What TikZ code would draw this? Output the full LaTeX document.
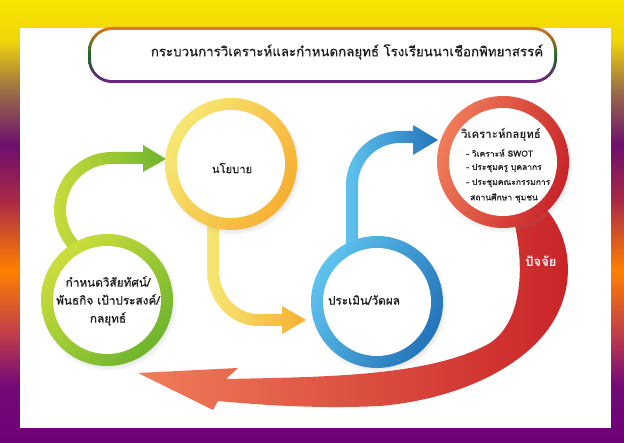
\documentclass[tikz,border=0pt]{standalone}
\usepackage{fontspec}
\newfontfamily\thaifont[Script=Thai,FakeBold=0.7]{Loma}
\newfontfamily\thaibold[Script=Thai]{Loma Bold}
\usetikzlibrary{shadows}
\definecolor{fyelA}{RGB}{247,229,0}
\definecolor{fyelB}{RGB}{240,214,10}
\definecolor{fbrown}{RGB}{155,110,70}
\definecolor{fpurC}{RGB}{110,15,110}
\definecolor{fredB}{RGB}{170,40,70}
\definecolor{forange}{RGB}{255,128,0}
\definecolor{fredA}{RGB}{190,60,75}
\definecolor{fpurB}{RGB}{115,10,120}
\definecolor{fpurA}{RGB}{110,0,120}
\definecolor{tOr}{RGB}{230,115,25}
\definecolor{tGr}{RGB}{25,105,35}
\definecolor{tPu}{RGB}{115,30,135}
\definecolor{gA}{RGB}{205,222,60}
\definecolor{gB}{RGB}{110,180,45}
\definecolor{yA}{RGB}{246,232,115}
\definecolor{yB}{RGB}{247,175,50}
\definecolor{bA}{RGB}{95,195,238}
\definecolor{bB}{RGB}{35,115,185}
\definecolor{rA}{RGB}{240,125,90}
\definecolor{rB}{RGB}{200,35,40}
\definecolor{txt}{RGB}{30,30,30}
\pgfdeclareverticalshading{framesh}{100bp}{color(0bp)=(fpurA); color(25bp)=(fpurA); color(31.5bp)=(fpurB); color(37.2bp)=(fredA); color(44.5bp)=(forange); color(52.4bp)=(fredB); color(58.6bp)=(fpurC); color(64.8bp)=(fbrown); color(70.5bp)=(fyelB); color(75bp)=(fyelA); color(100bp)=(fyelA)}
\pgfdeclareradialshading{innerwhite}{\pgfpoint{0bp}{0bp}}{color(0bp)=(white); color(21bp)=(white); color(25bp)=(black!13); color(50bp)=(black!13)}
\tikzset{
  ring/.style={circle, minimum size=132pt, inner sep=0pt,
    circular drop shadow={shadow xshift=1.5pt, shadow yshift=-2.5pt, opacity=0.3, shadow scale=1.04},
    path picture={\shade[shading=innerwhite] (path picture bounding box.center) circle (54pt);}},
  ctext/.style={font=\thaifont\fontsize{11.8}{18}\selectfont, text=txt, align=center, inner sep=0pt},
  btext/.style={font=\thaifont\fontsize{8.5}{12}\selectfont, text=txt, anchor=west, inner sep=0pt},
}
\begin{document}
\begin{tikzpicture}[x=1pt,y=1pt]
\useasboundingbox (0,0) rectangle (624,443);
% frame
\shade[shading=framesh] (0,0) rectangle (624,443);
\fill[white] (20,15) rectangle (611,415);
% title box
\shade[top color=tOr, bottom color=tPu, middle color=tGr, rounded corners=24pt] (88,360) rectangle (557,416);
\fill[white, rounded corners=21pt] (91,363) rectangle (554,413);
\node[font=\thaifont\fontsize{13.3}{18}\selectfont, text=txt, inner sep=0pt] (title) at (347,391) {กระบวนการวิเคราะห์และกำหนดกลยุทธ์ โรงเรียนนาเชือกพิทยาสรรค์};
% big red arrow
\shade[left color=rA, right color=rB] (226,64) .. controls (320,66) and (430,66) .. (490,100) .. controls (520,120) and (526,170) .. (514,222) -- (545,235) .. controls (568,210) and (575,170) .. (560,135) .. controls (540,85) and (470,45) .. (380,37) .. controls (320,34) and (260,38) .. (218,42) -- (213,33) -- (138,70) -- (238,75) -- cycle;
% green arrow
\shade[left color=gA, right color=gB] (74.72,188.57) arc[start angle=230, end angle=90, radius=58pt] -- (143,291) -- (143,298) -- (166,284) -- (143,271) -- (143,279) -- (112,279) arc[start angle=90, end angle=230, radius=46pt] -- cycle;
% yellow arrow
\shade[left color=yA, right color=yB] (207,232) -- (207,173) arc[start angle=180, end angle=270, x radius=51pt, y radius=56pt] -- (282,117) -- (282,109) -- (306,123) -- (282,137) -- (282,129) -- (258,129) arc[start angle=270, end angle=180, x radius=39pt, y radius=44pt] -- (219,232) -- cycle;
% blue arrow
\shade[left color=bA, right color=bB] (346,190) -- (346,258) arc[start angle=180, end angle=90, radius=54pt] -- (413,312) -- (413,318) -- (438,303) -- (413,288) -- (413,300) -- (400,300) arc[start angle=90, end angle=180, radius=42pt] -- (358,190) -- cycle;
% circles
\node[ring, left color=gA, right color=gB, shading angle=45] (green) at (107,143) {};
\node[ring, left color=yA, right color=yB, shading angle=60] (yellow) at (231,279) {};
\node[ring, left color=bA, right color=bB, shading angle=60] (blue) at (377,141) {};
\node[ring, left color=rA, right color=rB, shading angle=70] (red) at (503,281) {};
% texts
\node[ctext] (gtext) at (108,142) {กำหนดวิสัยทัศน์/\\พันธกิจ เป้าประสงค์/\\กลยุทธ์};
\node[ctext, font=\thaifont\fontsize{11.2}{18}\selectfont] (ytext) at (232,275) {นโยบาย};
\node[ctext] (btxt) at (364,143) {ประเมิน/วัดผล};
\node[ctext, font=\thaibold\fontsize{11.5}{18}\selectfont] (rtitle) at (501,308) {วิเคราะห์กลยุทธ์};
\node[btext] (r1) at (466,290) {- วิเคราะห์ SWOT};
\node[btext] (r2) at (466,275) {- ประชุมครู บุคลากร};
\node[btext] (r3) at (466,260) {- ประชุมคณะกรรมการ};
\node[btext] (r4) at (470,245) {สถานศึกษา ชุมชน};
\node[ctext, text=white, font=\thaibold\fontsize{13}{16}\selectfont] (factor) at (541,182) {ปัจจัย};
\end{tikzpicture}
\end{document}
